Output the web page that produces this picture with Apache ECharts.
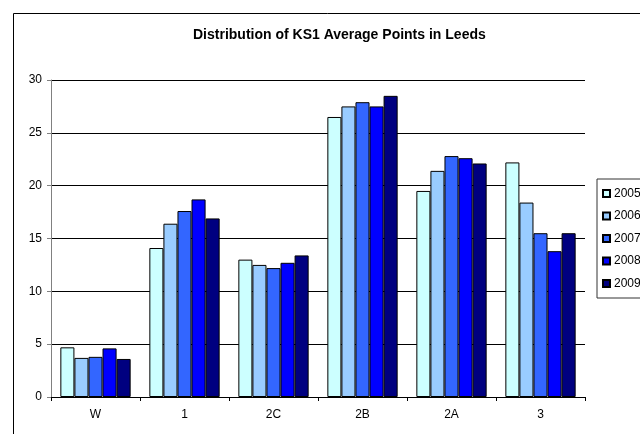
<!DOCTYPE html>
<html>
<head>
<meta charset="utf-8">
<script src="https://cdn.jsdelivr.net/npm/echarts@6/dist/echarts.min.js"></script>
<style>
  html, body { margin: 0; padding: 0; background: #fff; }
  #chart { width: 640px; height: 434px; }
</style>
</head>
<body>
<div id="chart"></div>
<script>
// categories and yearly values
var categories = ["W", "1", "2C", "2B", "2A", "3"];
var years = ["2005", "2006", "2007", "2008", "2009"];
var v2005 = [4.7, 14.1, 13.0, 26.5, 19.5, 22.2];
var v2006 = [3.7, 16.4, 12.5, 27.5, 21.4, 18.4];
var v2007 = [3.8, 17.6, 12.2, 27.9, 22.8, 15.5];
var v2008 = [4.6, 18.7, 12.7, 27.5, 22.6, 13.8];
var v2009 = [3.6, 16.9, 13.4, 28.5, 22.1, 15.5];
var colors = ["#ccffff", "#99ccff", "#3366ff", "#0000ff", "#000080"];

var chart = echarts.init(document.getElementById("chart"));
var values = [v2005, v2006, v2007, v2008, v2009];

var series = years.map(function (y, i) {
  return {
    name: y,
    type: "bar",
    data: values[i],
    barGap: "0%",
    barCategoryGap: "21%",
    itemStyle: {
      color: colors[i],
      borderColor: "#000",
      borderWidth: 1
    },
    emphasis: { disabled: true }
  };
});

var option = {
  animation: false,
  textStyle: { fontFamily: "Liberation Sans, Arial, sans-serif" },
  title: {
    text: "Distribution of KS1 Average Points in Leeds",
    left: 188,
    top: 23,
    textStyle: {
      fontSize: 14,
      fontWeight: "bold",
      color: "#000",
      fontFamily: "Liberation Sans, Arial, sans-serif"
    }
  },
  graphic: [
    {
      type: "rect",
      left: 11,
      top: 11,
      z: -10,
      shape: { width: 700, height: 500 },
      style: { fill: "none", stroke: "#000", lineWidth: 1 }
    }
  ],
  legend: {
    orient: "vertical",
    left: 597,
    top: 179,
    padding: [8, 10, 8, 5],
    itemWidth: 7,
    itemHeight: 7,
    itemGap: 9.5,
    borderColor: "#333",
    borderWidth: 1,
    icon: "rect",
    textStyle: {
      fontSize: 12,
      lineHeight: 13,
      color: "#000",
      padding: [0, 0, 0, -1]
    },
    data: years
  },
  grid: {
    left: 51,
    right: 55,
    top: 80,
    bottom: 37,
    containLabel: false
  },
  xAxis: {
    type: "category",
    data: categories,
    axisLine: { lineStyle: { color: "#000", width: 1 } },
    axisTick: { show: true, length: 4, lineStyle: { color: "#000" } },
    axisLabel: { fontSize: 12, color: "#000", margin: 12 }
  },
  yAxis: {
    type: "value",
    min: 0,
    max: 30,
    interval: 5,
    axisLine: { show: true, lineStyle: { color: "#808080", width: 1 } },
    axisTick: { show: true, length: 4, lineStyle: { color: "#808080" } },
    axisLabel: { fontSize: 12, color: "#000", margin: 9 },
    splitLine: { show: true, lineStyle: { color: "#000", width: 1 } }
  },
  series: series
};

chart.setOption(option);
</script>
</body>
</html>
